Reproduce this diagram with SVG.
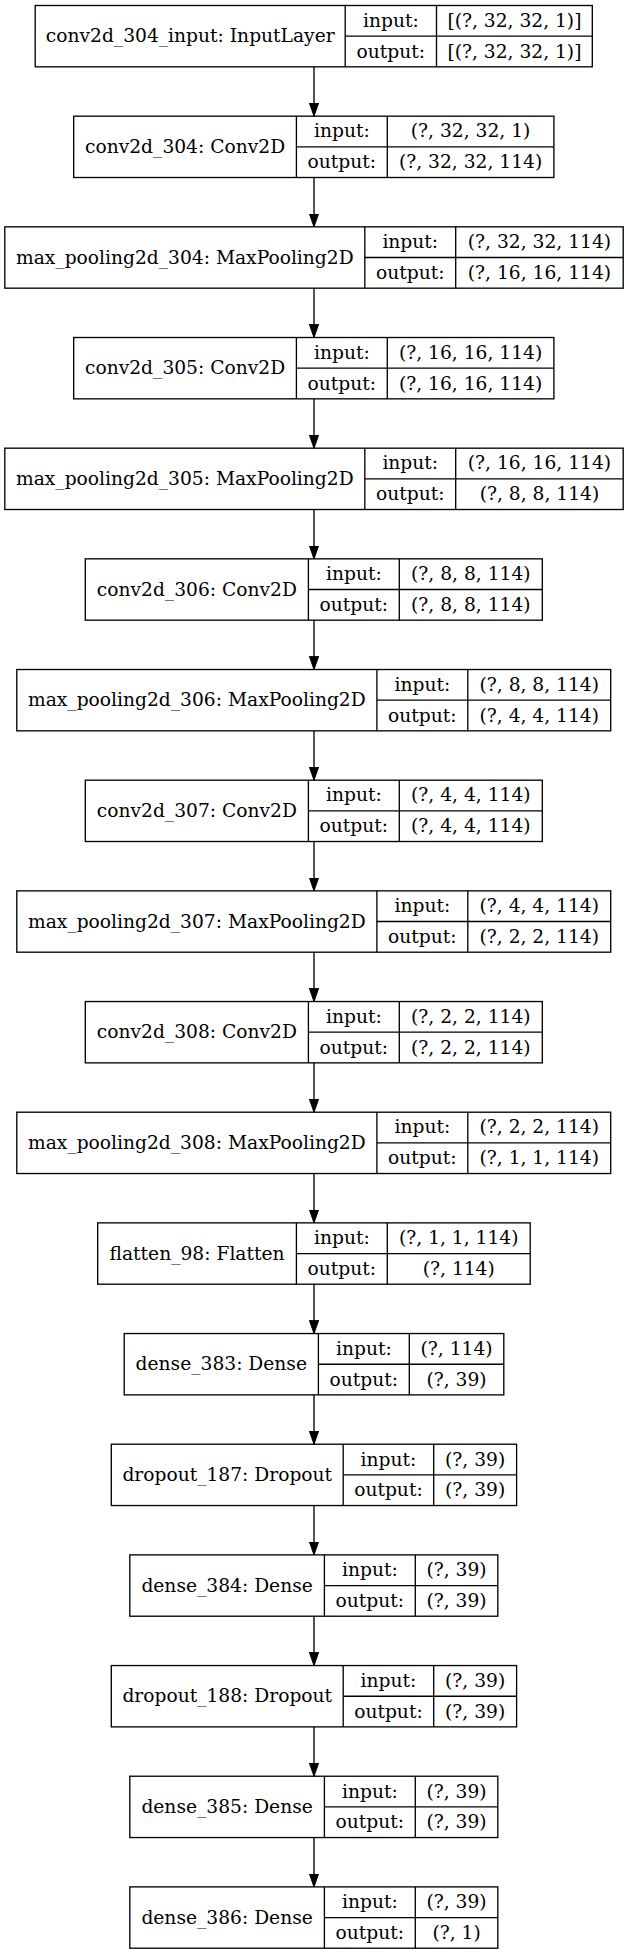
<svg xmlns="http://www.w3.org/2000/svg" width="628" height="1955" viewBox="0 0 628 1955">
<style>
.b{fill:none;stroke:#000;stroke-width:1.33}
.d{stroke:#000;stroke-width:1.33}
text{font-family:"DejaVu Serif","Liberation Serif",serif;font-size:18.67px;fill:#000;text-anchor:middle}
.e{stroke:#000;stroke-width:1.33;fill:none;marker-end:url(#ah)}
</style>
<defs>
<marker id="ah" markerUnits="userSpaceOnUse" markerWidth="14" markerHeight="10" refX="13.33" refY="4.67" orient="auto">
<path d="M0,0 L13.33,4.67 L0,9.33 z" fill="#000" stroke="#000" stroke-width="1"/>
</marker>
</defs>
<rect width="628" height="1955" fill="#fff"/>
<g id="connectors">
<line class="e" x1="314" y1="66.83" x2="314" y2="116.17"/>
<line class="e" x1="314" y1="177.5" x2="314" y2="226.84"/>
<line class="e" x1="314" y1="288.17" x2="314" y2="337.51"/>
<line class="e" x1="314" y1="398.84" x2="314" y2="448.18"/>
<line class="e" x1="314" y1="509.51" x2="314" y2="558.85"/>
<line class="e" x1="314" y1="620.18" x2="314" y2="669.52"/>
<line class="e" x1="314" y1="730.85" x2="314" y2="780.19"/>
<line class="e" x1="314" y1="841.52" x2="314" y2="890.86"/>
<line class="e" x1="314" y1="952.19" x2="314" y2="1001.53"/>
<line class="e" x1="314" y1="1062.86" x2="314" y2="1112.2"/>
<line class="e" x1="314" y1="1173.53" x2="314" y2="1222.87"/>
<line class="e" x1="314" y1="1284.2" x2="314" y2="1333.54"/>
<line class="e" x1="314" y1="1394.87" x2="314" y2="1444.21"/>
<line class="e" x1="314" y1="1505.54" x2="314" y2="1554.88"/>
<line class="e" x1="314" y1="1616.21" x2="314" y2="1665.55"/>
<line class="e" x1="314" y1="1726.88" x2="314" y2="1776.22"/>
<line class="e" x1="314" y1="1837.55" x2="314" y2="1886.89"/>
</g>
<g id="n1" transform="translate(0,5.5)">
<rect class="b" x="35.2" y="0" width="557.1" height="61.33"/>
<line class="d" x1="345.2" y1="0" x2="345.2" y2="61.33"/><line class="d" x1="436.5" y1="0" x2="436.5" y2="61.33"/><line class="d" x1="345.2" y1="30.67" x2="592.3" y2="30.67"/>
<text x="190.2" y="36.9">conv2d_304_input: InputLayer</text>
<text x="390.85" y="21.3">input:</text><text x="514.4" y="21.3">[(?, 32, 32, 1)]</text>
<text x="390.85" y="52">output:</text><text x="514.4" y="52">[(?, 32, 32, 1)]</text>
</g>
<g id="n2" transform="translate(0,116.17)">
<rect class="b" x="73.7" y="0" width="480.2" height="61.33"/>
<line class="d" x1="296.4" y1="0" x2="296.4" y2="61.33"/><line class="d" x1="387.3" y1="0" x2="387.3" y2="61.33"/><line class="d" x1="296.4" y1="30.67" x2="553.9" y2="30.67"/>
<text x="185.05" y="36.9">conv2d_304: Conv2D</text>
<text x="341.85" y="21.3">input:</text><text x="470.6" y="21.3">(?, 32, 32, 1)</text>
<text x="341.85" y="52">output:</text><text x="470.6" y="52">(?, 32, 32, 114)</text>
</g>
<g id="n3" transform="translate(0,226.84)">
<rect class="b" x="4.8" y="0" width="618.4" height="61.33"/>
<line class="d" x1="364.8" y1="0" x2="364.8" y2="61.33"/><line class="d" x1="455.7" y1="0" x2="455.7" y2="61.33"/><line class="d" x1="364.8" y1="30.67" x2="623.2" y2="30.67"/>
<text x="184.8" y="36.9">max_pooling2d_304: MaxPooling2D</text>
<text x="410.25" y="21.3">input:</text><text x="539.45" y="21.3">(?, 32, 32, 114)</text>
<text x="410.25" y="52">output:</text><text x="539.45" y="52">(?, 16, 16, 114)</text>
</g>
<g id="n4" transform="translate(0,337.51)">
<rect class="b" x="73.7" y="0" width="480.2" height="61.33"/>
<line class="d" x1="296.4" y1="0" x2="296.4" y2="61.33"/><line class="d" x1="387.3" y1="0" x2="387.3" y2="61.33"/><line class="d" x1="296.4" y1="30.67" x2="553.9" y2="30.67"/>
<text x="185.05" y="36.9">conv2d_305: Conv2D</text>
<text x="341.85" y="21.3">input:</text><text x="470.6" y="21.3">(?, 16, 16, 114)</text>
<text x="341.85" y="52">output:</text><text x="470.6" y="52">(?, 16, 16, 114)</text>
</g>
<g id="n5" transform="translate(0,448.18)">
<rect class="b" x="4.8" y="0" width="618.4" height="61.33"/>
<line class="d" x1="364.8" y1="0" x2="364.8" y2="61.33"/><line class="d" x1="455.7" y1="0" x2="455.7" y2="61.33"/><line class="d" x1="364.8" y1="30.67" x2="623.2" y2="30.67"/>
<text x="184.8" y="36.9">max_pooling2d_305: MaxPooling2D</text>
<text x="410.25" y="21.3">input:</text><text x="539.45" y="21.3">(?, 16, 16, 114)</text>
<text x="410.25" y="52">output:</text><text x="539.45" y="52">(?, 8, 8, 114)</text>
</g>
<g id="n6" transform="translate(0,558.85)">
<rect class="b" x="85.3" y="0" width="457" height="61.33"/>
<line class="d" x1="308.4" y1="0" x2="308.4" y2="61.33"/><line class="d" x1="399.3" y1="0" x2="399.3" y2="61.33"/><line class="d" x1="308.4" y1="30.67" x2="542.3" y2="30.67"/>
<text x="196.85" y="36.9">conv2d_306: Conv2D</text>
<text x="353.85" y="21.3">input:</text><text x="470.8" y="21.3">(?, 8, 8, 114)</text>
<text x="353.85" y="52">output:</text><text x="470.8" y="52">(?, 8, 8, 114)</text>
</g>
<g id="n7" transform="translate(0,669.52)">
<rect class="b" x="16.8" y="0" width="593.9" height="61.33"/>
<line class="d" x1="376.9" y1="0" x2="376.9" y2="61.33"/><line class="d" x1="467.8" y1="0" x2="467.8" y2="61.33"/><line class="d" x1="376.9" y1="30.67" x2="610.7" y2="30.67"/>
<text x="196.85" y="36.9">max_pooling2d_306: MaxPooling2D</text>
<text x="422.35" y="21.3">input:</text><text x="539.25" y="21.3">(?, 8, 8, 114)</text>
<text x="422.35" y="52">output:</text><text x="539.25" y="52">(?, 4, 4, 114)</text>
</g>
<g id="n8" transform="translate(0,780.19)">
<rect class="b" x="85.3" y="0" width="457" height="61.33"/>
<line class="d" x1="308.4" y1="0" x2="308.4" y2="61.33"/><line class="d" x1="399.3" y1="0" x2="399.3" y2="61.33"/><line class="d" x1="308.4" y1="30.67" x2="542.3" y2="30.67"/>
<text x="196.85" y="36.9">conv2d_307: Conv2D</text>
<text x="353.85" y="21.3">input:</text><text x="470.8" y="21.3">(?, 4, 4, 114)</text>
<text x="353.85" y="52">output:</text><text x="470.8" y="52">(?, 4, 4, 114)</text>
</g>
<g id="n9" transform="translate(0,890.86)">
<rect class="b" x="16.8" y="0" width="593.9" height="61.33"/>
<line class="d" x1="376.9" y1="0" x2="376.9" y2="61.33"/><line class="d" x1="467.8" y1="0" x2="467.8" y2="61.33"/><line class="d" x1="376.9" y1="30.67" x2="610.7" y2="30.67"/>
<text x="196.85" y="36.9">max_pooling2d_307: MaxPooling2D</text>
<text x="422.35" y="21.3">input:</text><text x="539.25" y="21.3">(?, 4, 4, 114)</text>
<text x="422.35" y="52">output:</text><text x="539.25" y="52">(?, 2, 2, 114)</text>
</g>
<g id="n10" transform="translate(0,1001.53)">
<rect class="b" x="85.3" y="0" width="457" height="61.33"/>
<line class="d" x1="308.4" y1="0" x2="308.4" y2="61.33"/><line class="d" x1="399.3" y1="0" x2="399.3" y2="61.33"/><line class="d" x1="308.4" y1="30.67" x2="542.3" y2="30.67"/>
<text x="196.85" y="36.9">conv2d_308: Conv2D</text>
<text x="353.85" y="21.3">input:</text><text x="470.8" y="21.3">(?, 2, 2, 114)</text>
<text x="353.85" y="52">output:</text><text x="470.8" y="52">(?, 2, 2, 114)</text>
</g>
<g id="n11" transform="translate(0,1112.2)">
<rect class="b" x="16.8" y="0" width="593.9" height="61.33"/>
<line class="d" x1="376.9" y1="0" x2="376.9" y2="61.33"/><line class="d" x1="467.8" y1="0" x2="467.8" y2="61.33"/><line class="d" x1="376.9" y1="30.67" x2="610.7" y2="30.67"/>
<text x="196.85" y="36.9">max_pooling2d_308: MaxPooling2D</text>
<text x="422.35" y="21.3">input:</text><text x="539.25" y="21.3">(?, 2, 2, 114)</text>
<text x="422.35" y="52">output:</text><text x="539.25" y="52">(?, 1, 1, 114)</text>
</g>
<g id="n12" transform="translate(0,1222.87)">
<rect class="b" x="97.7" y="0" width="432.5" height="61.33"/>
<line class="d" x1="296.4" y1="0" x2="296.4" y2="61.33"/><line class="d" x1="387.3" y1="0" x2="387.3" y2="61.33"/><line class="d" x1="296.4" y1="30.67" x2="530.2" y2="30.67"/>
<text x="197.05" y="36.9">flatten_98: Flatten</text>
<text x="341.85" y="21.3">input:</text><text x="458.75" y="21.3">(?, 1, 1, 114)</text>
<text x="341.85" y="52">output:</text><text x="458.75" y="52">(?, 114)</text>
</g>
<g id="n13" transform="translate(0,1333.54)">
<rect class="b" x="124.2" y="0" width="379.6" height="61.33"/>
<line class="d" x1="318.4" y1="0" x2="318.4" y2="61.33"/><line class="d" x1="409.3" y1="0" x2="409.3" y2="61.33"/><line class="d" x1="318.4" y1="30.67" x2="503.8" y2="30.67"/>
<text x="221.3" y="36.9">dense_383: Dense</text>
<text x="363.85" y="21.3">input:</text><text x="456.55" y="21.3">(?, 114)</text>
<text x="363.85" y="52">output:</text><text x="456.55" y="52">(?, 39)</text>
</g>
<g id="n14" transform="translate(0,1444.21)">
<rect class="b" x="111.3" y="0" width="405.3" height="61.33"/>
<line class="d" x1="343.2" y1="0" x2="343.2" y2="61.33"/><line class="d" x1="433.7" y1="0" x2="433.7" y2="61.33"/><line class="d" x1="343.2" y1="30.67" x2="516.6" y2="30.67"/>
<text x="227.25" y="36.9">dropout_187: Dropout</text>
<text x="388.45" y="21.3">input:</text><text x="475.15" y="21.3">(?, 39)</text>
<text x="388.45" y="52">output:</text><text x="475.15" y="52">(?, 39)</text>
</g>
<g id="n15" transform="translate(0,1554.88)">
<rect class="b" x="129.8" y="0" width="368" height="61.33"/>
<line class="d" x1="324.4" y1="0" x2="324.4" y2="61.33"/><line class="d" x1="415.3" y1="0" x2="415.3" y2="61.33"/><line class="d" x1="324.4" y1="30.67" x2="497.8" y2="30.67"/>
<text x="227.1" y="36.9">dense_384: Dense</text>
<text x="369.85" y="21.3">input:</text><text x="456.55" y="21.3">(?, 39)</text>
<text x="369.85" y="52">output:</text><text x="456.55" y="52">(?, 39)</text>
</g>
<g id="n16" transform="translate(0,1665.55)">
<rect class="b" x="111.3" y="0" width="405.3" height="61.33"/>
<line class="d" x1="343.2" y1="0" x2="343.2" y2="61.33"/><line class="d" x1="433.7" y1="0" x2="433.7" y2="61.33"/><line class="d" x1="343.2" y1="30.67" x2="516.6" y2="30.67"/>
<text x="227.25" y="36.9">dropout_188: Dropout</text>
<text x="388.45" y="21.3">input:</text><text x="475.15" y="21.3">(?, 39)</text>
<text x="388.45" y="52">output:</text><text x="475.15" y="52">(?, 39)</text>
</g>
<g id="n17" transform="translate(0,1776.22)">
<rect class="b" x="129.8" y="0" width="368" height="61.33"/>
<line class="d" x1="324.4" y1="0" x2="324.4" y2="61.33"/><line class="d" x1="415.3" y1="0" x2="415.3" y2="61.33"/><line class="d" x1="324.4" y1="30.67" x2="497.8" y2="30.67"/>
<text x="227.1" y="36.9">dense_385: Dense</text>
<text x="369.85" y="21.3">input:</text><text x="456.55" y="21.3">(?, 39)</text>
<text x="369.85" y="52">output:</text><text x="456.55" y="52">(?, 39)</text>
</g>
<g id="n18" transform="translate(0,1886.89)">
<rect class="b" x="129.8" y="0" width="368" height="61.33"/>
<line class="d" x1="324.4" y1="0" x2="324.4" y2="61.33"/><line class="d" x1="415.3" y1="0" x2="415.3" y2="61.33"/><line class="d" x1="324.4" y1="30.67" x2="497.8" y2="30.67"/>
<text x="227.1" y="36.9">dense_386: Dense</text>
<text x="369.85" y="21.3">input:</text><text x="456.55" y="21.3">(?, 39)</text>
<text x="369.85" y="52">output:</text><text x="456.55" y="52">(?, 1)</text>
</g>
</svg>
